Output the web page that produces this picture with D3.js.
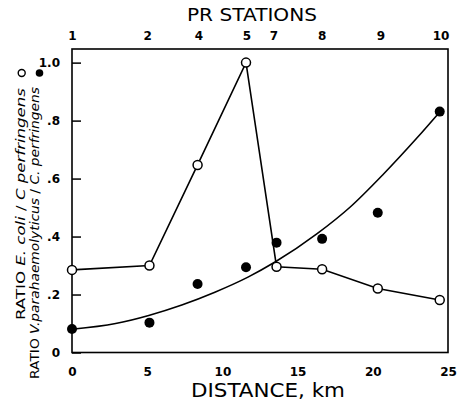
<!DOCTYPE html>
<html><head><meta charset="utf-8">
<script src="https://cdn.jsdelivr.net/npm/d3@7"></script>
<style>
body{margin:0;background:#fff}
svg{display:block}
text{font-family:"DejaVu Sans",sans-serif;fill:#000}
</style></head><body>
<svg id="c" width="457" height="408"></svg>
<script>
// ---- data ----
const distanceKm   = [0, 5.15, 8.35, 11.57, 13.6, 16.63, 20.33, 24.45];
const ecoliRatio   = [0.285, 0.30, 0.647, 1.0, 0.296, 0.287, 0.221, 0.181];
const vibrioRatio  = [0.081, 0.103, 0.236, 0.294, 0.379, 0.392, 0.482, 0.831];
const fitKm        = [0, 2.9, 5.1, 7.3, 9.5, 11.7, 13.5, 16.3, 18.5, 20.7, 22.9, 24.47];
const fitRatio     = [0.08, 0.10, 0.128, 0.164, 0.208, 0.26, 0.312, 0.41, 0.502, 0.615, 0.738, 0.831];
const stationKm    = [0, 5.0, 8.4, 11.6, 13.4, 16.6, 20.5, 24.5];
const stationLabels= ["1","2","4","5","7","8","9","10"];
const xTicks       = [0, 5, 10, 15, 20, 25];
const yTicks       = [0, 0.2, 0.4, 0.6, 0.8, 1.0];
const yTickLabels  = ["0", ".2", ".4", ".6", ".8", "1.0"];

const svg = d3.select("#c");
const x = d3.scaleLinear().domain([0, 25]).range([72, 448]);
const y = d3.scaleLinear().domain([0, 1.047]).range([352.5, 49]);

// frame
svg.append("rect")
  .attr("x", x(0)).attr("y", y(1.047))
  .attr("width", x(25) - x(0)).attr("height", y(0) - y(1.047))
  .attr("fill", "none").attr("stroke", "#000").attr("stroke-width", 1.6);

// left axis (ticks inward)
const gl = svg.append("g").attr("transform", `translate(${x(0)},0)`)
  .call(d3.axisLeft(y).tickValues(yTicks).tickFormat((d,i)=>yTickLabels[i])
        .tickSizeInner(-9).tickSizeOuter(0).tickPadding(12));
gl.select(".domain").remove();
gl.selectAll("line").attr("stroke-width", 1.5);
gl.selectAll("text").attr("font-size", 12).attr("font-weight", "bold").attr("font-family", "DejaVu Sans");

// bottom axis
const gb = svg.append("g").attr("transform", `translate(0,${y(0)})`)
  .call(d3.axisBottom(x).tickValues(xTicks).tickSize(0).tickPadding(15));
gb.select(".domain").remove();
gb.selectAll("text").attr("font-size", 12).attr("font-weight", "bold").attr("font-family", "DejaVu Sans");

// top axis: PR stations
const gt = svg.append("g").attr("transform", `translate(0,${y(1.047)})`)
  .call(d3.axisTop(x).tickValues(stationKm).tickFormat((d,i)=>stationLabels[i]).tickSize(0).tickPadding(9));
gt.select(".domain").remove();
gt.selectAll("text").attr("font-size", 12).attr("font-weight", "bold").attr("font-family", "DejaVu Sans");

// titles
svg.append("text").attr("x", 252).attr("y", 21).attr("text-anchor", "middle")
  .attr("font-size", 17).attr("textLength", 130).attr("lengthAdjust", "spacingAndGlyphs")
  .text("PR STATIONS");
svg.append("text").attr("x", 268).attr("y", 397).attr("text-anchor", "middle")
  .attr("font-size", 20).attr("textLength", 154).attr("lengthAdjust", "spacingAndGlyphs")
  .text("DISTANCE, km");

// y label lines
function yLabel(px, py, len, parts) {
  const t = svg.append("text").attr("transform", `translate(${px},${py}) rotate(-90)`)
    .attr("font-size", 12.5).attr("textLength", len).attr("lengthAdjust", "spacingAndGlyphs");
  parts.forEach(p => t.append("tspan").attr("font-style", p[1] ? "italic" : "normal").text(p[0]));
}
yLabel(25, 320, 232, [["RATIO ", 0], ["E. coli", 1], [" / ", 0], ["C perfringens", 1]]);
yLabel(39, 379, 292, [["RATIO ", 0], ["V.parahaemolyticus", 1], [" / ", 0], ["C. perfringens", 1]]);
svg.append("circle").attr("cx", 21.7).attr("cy", 73).attr("r", 3.5)
  .attr("fill", "#fff").attr("stroke", "#000").attr("stroke-width", 1.4);
svg.append("circle").attr("cx", 39.5).attr("cy", 73).attr("r", 3.8).attr("fill", "#000");

// fitted curve (V. parahaemolyticus)
const fitData = fitKm.map((k,i)=>[k, fitRatio[i]]);
svg.append("path").datum(fitData)
  .attr("d", d3.line().x(d=>x(d[0])).y(d=>y(d[1])).curve(d3.curveMonotoneX))
  .attr("fill", "none").attr("stroke", "#000").attr("stroke-width", 1.6);

// E. coli polyline
const ecoliData = distanceKm.map((k,i)=>[k, ecoliRatio[i]]);
svg.append("path").datum(ecoliData)
  .attr("d", d3.line().x(d=>x(d[0])).y(d=>y(d[1])))
  .attr("fill", "none").attr("stroke", "#000").attr("stroke-width", 1.6);

// markers
const vibData = distanceKm.map((k,i)=>[k, vibrioRatio[i]]);
svg.selectAll("circle.vib").data(vibData).join("circle").attr("class","vib")
  .attr("cx", d=>x(d[0])).attr("cy", d=>y(d[1])).attr("r", 5).attr("fill", "#000");
svg.selectAll("circle.eco").data(ecoliData).join("circle").attr("class","eco")
  .attr("cx", d=>x(d[0])).attr("cy", d=>y(d[1])).attr("r", 4.5)
  .attr("fill", "#fff").attr("stroke", "#000").attr("stroke-width", 1.5);
</script>
</body></html>
